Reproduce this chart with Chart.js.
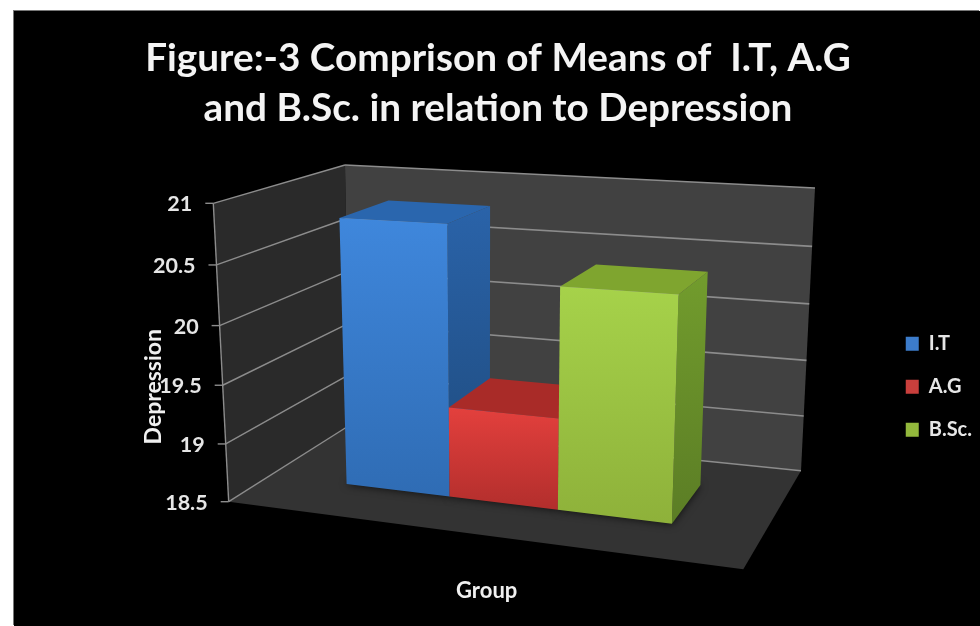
<!DOCTYPE html>
<html>
<head>
<meta charset="utf-8">
<title>Depression by group</title>
<script src="https://cdn.jsdelivr.net/npm/chart.js@4/dist/chart.umd.min.js"></script>
<style>
  html, body { margin: 0; background: #fff; overflow: hidden; }
  #plate {
    position: absolute; left: 14px; top: 11px; width: 966px; height: 615px;
    background: #000; box-shadow: -1px -1px 0 #777; overflow: hidden;
  }
  canvas { display: block; }
</style>
</head>
<body>
<div id="plate"><canvas id="chart" width="968" height="615"></canvas></div>
<script>
const categories = ['Group'];
const seriesNames = ['I.T', 'A.G', 'B.Sc.'];
const seriesValues = [[20.8], [19.27], [20.35]];
const tickValues = [18.5, 19, 19.5, 20, 20.5, 21];

const titleLines = ['Figure:-3 Comprison of Means of  I.T, A.G', 'and B.Sc. in relation to Depression'];
const legendColors = ['#3c7ccb', '#c93f3c', '#93b83c'];

// face colours per series: front top, front bottom, side top, side bottom, lid
const faceColors = [
  ['#3f87dc', '#2f6cb4', '#2a63a9', '#1e4a7c', '#2a66ae'],
  ['#e3403d', '#b22e2c', '#a02826', '#7e1f1d', '#a92b28'],
  ['#a6d24a', '#8eb13a', '#729c2d', '#5b7d25', '#7fa52f']
];

const PLATE_X = 14, PLATE_Y = 11;

// corners of the 3D box on the page: [front/back][left/right][floor/top]
const BOX = {
  flb: [228.7, 501.7], frb: [743.3, 569.3], blb: [350, 425], brb: [801, 470.7],
  flt: [213.3, 203.3], frt: [757, 230], blt: [345, 165], brt: [815, 188]
};
const BAR_FRONT = 0.35, BAR_BACK = 0.76;

const lerp = (a, b, t) => a + (b - a) * t;
// foreshortening along one axis of the box
const warp = (t, g) => t * (1 + g) / (1 + g * t);

function project(u, v, w) {
  u = warp(u, -0.11);
  w = warp(w, -0.04);
  const out = [0, 1].map(i => {
    const fb = lerp(BOX.flb[i], BOX.frb[i], u);
    const bb = lerp(BOX.blb[i], BOX.brb[i], u);
    const ft = lerp(BOX.flt[i], BOX.frt[i], u);
    const bt = lerp(BOX.blt[i], BOX.brt[i], u);
    return lerp(lerp(fb, bb, v), lerp(ft, bt, v), w);
  });
  return [out[0] - PLATE_X, out[1] - PLATE_Y];
}

function polygon(ctx, pts) {
  ctx.beginPath();
  pts.forEach((p, i) => i ? ctx.lineTo(p[0], p[1]) : ctx.moveTo(p[0], p[1]));
  ctx.closePath();
}

function face(ctx, pts, top, bottom) {
  const ys = pts.map(p => p[1]);
  const g = ctx.createLinearGradient(0, Math.min(...ys), 0, Math.max(...ys));
  g.addColorStop(0, top);
  g.addColorStop(1, bottom);
  polygon(ctx, pts);
  ctx.fillStyle = g;
  ctx.fill();
}

function line(ctx, a, b, color, width) {
  ctx.beginPath();
  ctx.moveTo(a[0], a[1]);
  ctx.lineTo(b[0], b[1]);
  ctx.strokeStyle = color;
  ctx.lineWidth = width;
  ctx.stroke();
}

// horizontal extent of a bar element as fractions of the chart area
function barSpan(bar, area) {
  return [
    (bar.x - bar.width / 2 - area.left) / area.width,
    (bar.x + bar.width / 2 - area.left) / area.width
  ];
}

const box3d = {
  id: 'box3d',
  // walls, floor, gridlines, value axis, then the blocks left to right
  beforeDatasetsDraw(chart) {
    const { ctx, chartArea: area, scales } = chart;
    const toW = value => (area.bottom - scales.y.getPixelForValue(value)) / area.height;
    ctx.save();
    polygon(ctx, [project(0, 0, 0), project(0, 1, 0), project(0, 1, 1), project(0, 0, 1)]);
    ctx.fillStyle = '#2a2a2a';
    ctx.fill();
    polygon(ctx, [project(0, 1, 0), project(1, 1, 0), project(1, 1, 1), project(0, 1, 1)]);
    ctx.fillStyle = '#414141';
    ctx.fill();
    polygon(ctx, [project(0, 0, 0), project(1, 0, 0), project(1, 1, 0), project(0, 1, 0)]);
    ctx.fillStyle = '#333333';
    ctx.fill();

    ctx.font = 'bold 21.5px Lato';
    ctx.textAlign = 'right';
    ctx.textBaseline = 'middle';
    scales.y.ticks.forEach(t => {
      const w = toW(t.value);
      const front = project(0, 0, w);
      line(ctx, front, project(0, 1, w), '#8c8c8c', 1.4);
      line(ctx, project(0, 1, w), project(1, 1, w), '#8c8c8c', 1.6);
      line(ctx, [front[0] - 8, front[1]], front, '#8c8c8c', 1.4);
      ctx.fillStyle = '#e6e6e6';
      ctx.fillText(String(t.value), front[0] - 21, front[1] + 1);
    });
    line(ctx, project(0, 0, 0), project(0, 0, 1), '#8c8c8c', 1.4);

    const bars = chart.data.datasets.map((ds, i) => chart.getDatasetMeta(i).data[0]);

    // soft contact shadow under the bars
    ctx.save();
    ctx.shadowColor = 'rgba(0,0,0,0.75)';
    ctx.shadowBlur = 9;
    bars.forEach(bar => {
      const [u0, u1] = barSpan(bar, area);
      polygon(ctx, [project(u0, BAR_FRONT, 0), project(u1, BAR_FRONT, 0), project(u1, BAR_BACK, 0), project(u0, BAR_BACK, 0)]);
      ctx.fillStyle = '#222';
      ctx.fill();
    });
    ctx.restore();

    // each bar becomes a block: side, lid, then front
    bars.forEach((bar, i) => {
      const c = faceColors[i];
      const [u0, u1] = barSpan(bar, area);
      const w = (area.bottom - bar.y) / area.height;
      const w0 = (area.bottom - bar.base) / area.height;
      face(ctx, [project(u1, BAR_FRONT, w0), project(u1, BAR_BACK, w0), project(u1, BAR_BACK, w), project(u1, BAR_FRONT, w)], c[2], c[3]);
      face(ctx, [project(u0, BAR_FRONT, w), project(u1, BAR_FRONT, w), project(u1, BAR_BACK, w), project(u0, BAR_BACK, w)], c[4], c[4]);
      face(ctx, [project(u0, BAR_FRONT, w0), project(u1, BAR_FRONT, w0), project(u1, BAR_FRONT, w), project(u0, BAR_FRONT, w)], c[0], c[1]);
    });
    ctx.restore();
  },
  // the flat bars are replaced by the blocks above
  beforeDatasetDraw() {
    return false;
  }
};

new Chart(document.getElementById('chart'), {
  type: 'bar',
  data: {
    labels: categories,
    datasets: seriesNames.map((name, i) => ({
      label: name,
      data: seriesValues[i],
      base: tickValues[0],
      backgroundColor: legendColors[i]
    }))
  },
  plugins: [box3d],
  options: {
    responsive: false,
    animation: false,
    layout: { padding: { left: 0, bottom: 18, top: 0, right: 0 } },
    datasets: { bar: { categoryPercentage: 0.662, barPercentage: 1 } },
    plugins: {
      tooltip: { enabled: false },
      title: {
        display: true,
        text: titleLines,
        color: '#f4f4f4',
        font: { family: 'Lato', size: 38.7, weight: 'bold', lineHeight: 1.29 },
        padding: { top: 23, bottom: 74 }
      },
      legend: {
        position: 'right',
        fullSize: false,
        labels: {
          color: '#e6e6e6',
          font: { family: 'Lato', size: 20, weight: 'bold' },
          boxWidth: 13,
          boxHeight: 14,
          padding: 23
        }
      }
    },
    scales: {
      x: {
        grid: { display: false },
        border: { display: false },
        ticks: { display: false },
        title: { display: true, text: 'Group', color: '#f0f0f0', font: { family: 'Lato', size: 22, weight: 'bold' } }
      },
      y: {
        min: tickValues[0],
        max: tickValues[tickValues.length - 1],
        afterBuildTicks: s => { s.ticks = tickValues.map(value => ({ value })); },
        grid: { display: false },
        border: { display: false },
        ticks: { display: false },
        title: {
          display: true,
          text: 'Depression',
          color: '#f0f0f0',
          font: { family: 'Lato', size: 23, weight: 'bold' },
          padding: { top: 126, bottom: 4 }
        }
      },
      // empty axis that keeps the legend out at the right edge
      spacer: {
        position: 'right',
        grid: { display: false },
        border: { display: false },
        ticks: { display: false },
        afterFit: s => { s.width = 89; }
      }
    }
  }
});
</script>
</body>
</html>
